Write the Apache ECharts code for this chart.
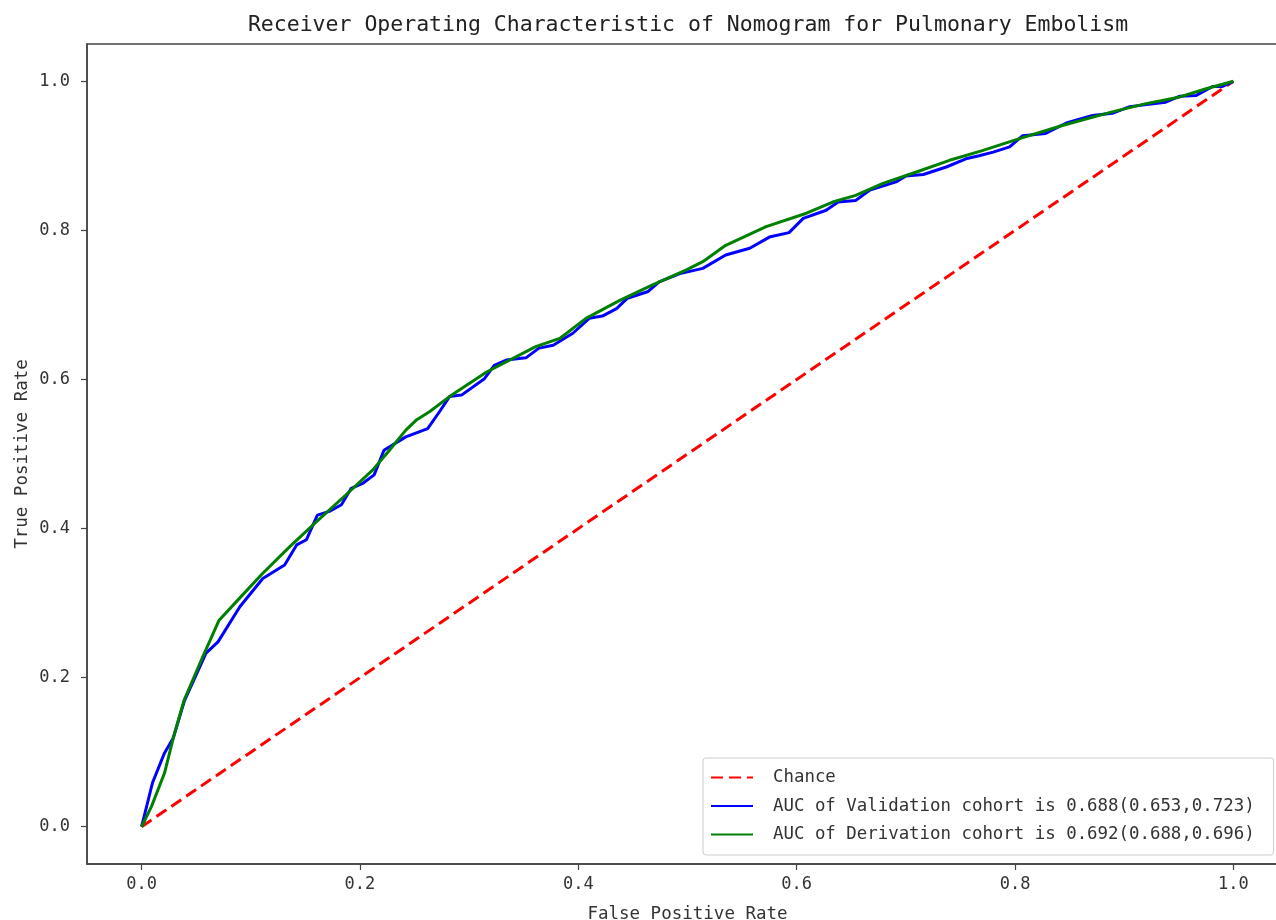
<!DOCTYPE html>
<html>
<head>
<meta charset="utf-8">
<script src="https://cdn.jsdelivr.net/npm/echarts@6/dist/echarts.min.js"></script>
<style>
  html, body { margin: 0; padding: 0; background: #fff; }
  #chart { width: 1276px; height: 920px; }
</style>
</head>
<body>
<div id="chart"></div>
<script>
const tickValues = [0, 0.2, 0.4, 0.6, 0.8, 1.0];

const chanceFpr = [0, 1];
const chanceTpr = [0, 1];

// validation cohort ROC (blue)
const valFpr = [0, 0.010, 0.021, 0.029, 0.039, 0.059, 0.070, 0.090, 0.111, 0.131, 0.142, 0.151, 0.161, 0.172, 0.183,
  0.192, 0.203, 0.213, 0.222, 0.242, 0.262, 0.273, 0.282, 0.293, 0.314, 0.323, 0.334, 0.352, 0.364, 0.377,
  0.395, 0.410, 0.422, 0.435, 0.445, 0.464, 0.474, 0.493, 0.514, 0.535, 0.557, 0.575, 0.593, 0.606, 0.627,
  0.638, 0.654, 0.667, 0.691, 0.700, 0.716, 0.737, 0.755, 0.767, 0.780, 0.795, 0.807, 0.828, 0.847, 0.871,
  0.889, 0.905, 0.938, 0.951, 0.966, 0.981, 0.990, 1.0];
const valTpr = [0, 0.059, 0.099, 0.119, 0.168, 0.233, 0.248, 0.295, 0.333, 0.351, 0.378, 0.385, 0.418, 0.423, 0.432,
  0.454, 0.461, 0.472, 0.505, 0.523, 0.534, 0.557, 0.577, 0.579, 0.601, 0.619, 0.626, 0.629, 0.642, 0.646,
  0.662, 0.682, 0.685, 0.695, 0.709, 0.718, 0.731, 0.742, 0.749, 0.767, 0.776, 0.791, 0.797, 0.816, 0.827,
  0.838, 0.840, 0.854, 0.865, 0.873, 0.875, 0.885, 0.896, 0.900, 0.905, 0.912, 0.927, 0.930, 0.944, 0.954,
  0.957, 0.966, 0.972, 0.980, 0.981, 0.993, 0.993, 1.0];

// derivation cohort ROC (green)
const derFpr = [0, 0.009, 0.021, 0.029, 0.039, 0.056, 0.071, 0.090, 0.111, 0.136, 0.160, 0.187, 0.212, 0.227,
  0.242, 0.252, 0.264, 0.282, 0.316, 0.361, 0.383, 0.407, 0.438, 0.468, 0.499, 0.514, 0.535, 0.572, 0.609,
  0.633, 0.654, 0.679, 0.709, 0.740, 0.770, 0.804, 0.844, 0.889, 0.920, 0.951, 0.975, 1.0];
const derTpr = [0, 0.027, 0.072, 0.119, 0.170, 0.228, 0.277, 0.307, 0.340, 0.376, 0.409, 0.445, 0.479, 0.505,
  0.532, 0.546, 0.557, 0.577, 0.610, 0.644, 0.655, 0.682, 0.706, 0.727, 0.747, 0.758, 0.780, 0.805, 0.823,
  0.838, 0.847, 0.863, 0.878, 0.894, 0.907, 0.923, 0.941, 0.959, 0.970, 0.979, 0.990, 1.0];

const seriesNames = [
  "Chance",
  "AUC of Validation cohort is 0.688(0.653,0.723)",
  "AUC of Derivation cohort is 0.692(0.688,0.696)"
];

const zip = (xs, ys) => xs.map((x, i) => [x, ys[i]]);

const FONT = "'DejaVu Sans Mono', monospace";
const TEXT = "#333";
const AXIS = "#444";

const chart = echarts.init(document.getElementById("chart"), null, { renderer: "canvas" });

const axisCommon = {
  type: "value",
  min: -0.05,
  max: 1.05,
  axisLine: { show: true, onZero: false, lineStyle: { color: AXIS, width: 1.5 } },
  axisTick: { show: true, length: 6, customValues: tickValues, lineStyle: { color: AXIS, width: 1.2 } },
  axisLabel: {
    customValues: tickValues,
    formatter: (v) => v.toFixed(1),
    color: TEXT, fontFamily: FONT, fontSize: 17
  },
  splitLine: { show: false },
  nameLocation: "middle",
  nameMoveOverlap: false,
  nameTextStyle: { color: TEXT, fontFamily: FONT, fontSize: 17.5 }
};

chart.setOption({
  animation: false,
  backgroundColor: "#fff",
  title: {
    text: "Receiver Operating Characteristic of Nomogram for Pulmonary Embolism",
    left: 683, top: 9, textAlign: "center",
    textStyle: { color: "#222", fontFamily: FONT, fontSize: 21.5, fontWeight: "normal" }
  },
  grid: {
    left: 87, top: 44, right: -12, bottom: 56,
    outerBoundsMode: "none",
    containLabel: false,
    show: true, borderColor: AXIS, borderWidth: 1.5, backgroundColor: "transparent"
  },
  legend: {
    orient: "vertical",
    left: 703, top: 758,
    padding: [11, 19, 12, 7],
    itemGap: 11.5,
    itemWidth: 42,
    itemHeight: 2,
    backgroundColor: "#fff",
    borderColor: "#ccc",
    borderWidth: 1,
    borderRadius: 3,
    itemStyle: { opacity: 0 },
    textStyle: { color: TEXT, fontFamily: FONT, fontSize: 17.4, padding: [0, 0, 0, 15] },
    data: seriesNames
  },
  xAxis: Object.assign({}, axisCommon, {
    name: "False Positive Rate", nameGap: 41,
    axisLabel: Object.assign({}, axisCommon.axisLabel, { margin: 12 })
  }),
  yAxis: Object.assign({}, axisCommon, {
    name: "True Positive Rate", nameGap: 56,
    axisLabel: Object.assign({}, axisCommon.axisLabel, { margin: 17 })
  }),
  series: [
    {
      name: seriesNames[0], type: "line", data: zip(chanceFpr, chanceTpr),
      symbol: "none", lineStyle: { color: "#ff0000", width: 3, type: [12, 6] },
      itemStyle: { color: "#ff0000" }
    },
    {
      name: seriesNames[1], type: "line", data: zip(valFpr, valTpr),
      symbol: "none", lineStyle: { color: "#0000ff", width: 3 },
      itemStyle: { color: "#0000ff" }
    },
    {
      name: seriesNames[2], type: "line", data: zip(derFpr, derTpr),
      symbol: "none", lineStyle: { color: "#008000", width: 3 },
      itemStyle: { color: "#008000" }
    }
  ]
});
</script>
</body>
</html>
